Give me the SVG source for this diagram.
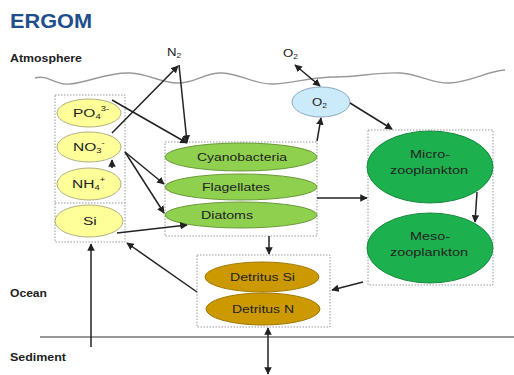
<svg xmlns="http://www.w3.org/2000/svg" width="514" height="375" viewBox="0 0 514 375">
<style>
text{font-family:"Liberation Sans",Arial,sans-serif;fill:#222}
.lbl{font-size:11px;text-anchor:middle}
.side{font-size:10px;font-weight:bold}
.box{fill:none;stroke:#999;stroke-width:1;stroke-dasharray:1.5,1.5}
.yel{fill:#FFFF99;stroke:#B0B080;stroke-width:1}
.phy{fill:#8FD14F;stroke:#6A9A3A;stroke-width:1}
.zoo{fill:#1DB04E;stroke:#178A3D;stroke-width:1}
.det{fill:#CC9900;stroke:#A07800;stroke-width:1}
.oxy{fill:#CCEBFA;stroke:#8AA8C0;stroke-width:1}
.ar{fill:none;stroke:#222;stroke-width:1.5;marker-end:url(#ah)}
.sub{font-size:7px}
.nut{font-size:11.5px}
</style>
<defs>
<marker id="ah" viewBox="0 0 10 10" refX="9" refY="5" markerWidth="5" markerHeight="5" orient="auto-start-reverse">
<path d="M0,0 L10,5 L0,10 z" fill="#222"/>
</marker>
</defs>

<text x="10" y="28" textLength="82" lengthAdjust="spacingAndGlyphs" style="font-size:21px;font-weight:bold;fill:#1F4E8C">ERGOM</text>
<text x="10" y="62" class="side" textLength="72" lengthAdjust="spacingAndGlyphs">Atmosphere</text>
<text x="10" y="297" class="side" textLength="37" lengthAdjust="spacingAndGlyphs">Ocean</text>
<text x="10" y="361" class="side" textLength="56" lengthAdjust="spacingAndGlyphs">Sediment</text>

<path d="M35,78 C48,74 56,86 70,84 C90,82 108,72 130,73 C150,74 160,83 178,83 C196,83 205,72 222,73 C242,74 256,85 274,84 C296,83 310,77 335,77 C360,77 378,72 400,73 C420,74 432,84 450,83 C470,82 488,71 505,70" fill="none" stroke="#999" stroke-width="1.4"/>
<line x1="40" y1="337" x2="514" y2="337" stroke="#333" stroke-width="1"/>

<text transform="translate(167,56) scale(1.2,1)" style="font-size:11px">N<tspan class="sub" dy="2">2</tspan></text>
<text transform="translate(283,57) scale(1.2,1)" style="font-size:11px">O<tspan class="sub" dy="2">2</tspan></text>

<g id="nutrients">
<rect class="box" x="55" y="95" width="70" height="147"/>
<line class="box" x1="55" y1="203" x2="125" y2="203"/>
<g id="po4"><ellipse class="yel" cx="89" cy="113" rx="32" ry="14"/><text class="nut" transform="translate(73,117) scale(1.35,1)">PO<tspan class="sub" dy="2">4</tspan><tspan class="sub" dy="-8">3-</tspan></text></g>
<g id="no3"><ellipse class="yel" cx="89" cy="147" rx="32" ry="15"/><text class="nut" transform="translate(73,151) scale(1.35,1)">NO<tspan class="sub" dy="2">3</tspan><tspan class="sub" dy="-8">-</tspan></text></g>
<g id="nh4"><ellipse class="yel" cx="89" cy="184" rx="32" ry="16"/><text class="nut" transform="translate(72,188) scale(1.35,1)">NH<tspan class="sub" dy="2">4</tspan><tspan class="sub" dy="-8">+</tspan></text></g>
<g id="si"><ellipse class="yel" cx="89" cy="221" rx="34" ry="16"/><text class="nut" transform="translate(83,225) scale(1.35,1)">Si</text></g>
</g>

<g id="phyto">
<rect class="box" x="165" y="142" width="152" height="94"/>
<g id="cyano"><ellipse class="phy" cx="241" cy="157" rx="76" ry="14"/><text x="197" y="161" textLength="90" lengthAdjust="spacingAndGlyphs" style="font-size:11px">Cyanobacteria</text></g>
<g id="flag"><ellipse class="phy" cx="241" cy="187" rx="76" ry="13"/><text x="202" y="191" textLength="68" lengthAdjust="spacingAndGlyphs" style="font-size:11px">Flagellates</text></g>
<g id="diat"><ellipse class="phy" cx="241" cy="215" rx="76" ry="13"/><text x="201" y="219" textLength="52" lengthAdjust="spacingAndGlyphs" style="font-size:11px">Diatoms</text></g>
</g>

<g id="o2"><ellipse class="oxy" cx="321" cy="102" rx="29" ry="15"/><text transform="translate(312,106) scale(1.2,1)" style="font-size:11px">O<tspan class="sub" dy="2">2</tspan></text></g>

<g id="zoo">
<rect class="box" x="368" y="130" width="125" height="155"/>
<g id="micro"><ellipse class="zoo" cx="430" cy="167" rx="63" ry="36"/><text x="410" y="158" textLength="40" lengthAdjust="spacingAndGlyphs" style="font-size:11px">Micro-</text><text x="390" y="174" textLength="78" lengthAdjust="spacingAndGlyphs" style="font-size:11px">zooplankton</text></g>
<g id="meso"><ellipse class="zoo" cx="430" cy="248" rx="63" ry="35"/><text x="410" y="240" textLength="40" lengthAdjust="spacingAndGlyphs" style="font-size:11px">Meso-</text><text x="390" y="256" textLength="78" lengthAdjust="spacingAndGlyphs" style="font-size:11px">zooplankton</text></g>
</g>

<g id="detritus">
<rect class="box" x="197" y="255" width="133" height="72"/>
<g id="detsi"><ellipse class="det" cx="262" cy="277" rx="57" ry="15"/><text x="230" y="281" textLength="65" lengthAdjust="spacingAndGlyphs" style="font-size:11px">Detritus Si</text></g>
<g id="detn"><ellipse class="det" cx="263" cy="309" rx="57" ry="16"/><text x="232" y="313" textLength="62" lengthAdjust="spacingAndGlyphs" style="font-size:11px">Detritus N</text></g>
</g>

<g id="connectors">
<line class="ar" x1="112" y1="133" x2="178" y2="66"/>
<line class="ar" x1="179" y1="65" x2="187" y2="142"/>
<line class="ar" x1="112" y1="100" x2="187" y2="143"/>
<line class="ar" x1="125" y1="152" x2="164" y2="184"/>
<line class="ar" x1="125" y1="152" x2="164" y2="213"/>
<line class="ar" x1="112" y1="168" x2="112" y2="160"/>
<line class="ar" x1="117" y1="233" x2="187" y2="225"/>
<line class="ar" x1="317" y1="141" x2="321" y2="118"/>
<line class="ar" style="marker-start:url(#ah)" x1="295" y1="65" x2="320" y2="86"/>
<line class="ar" x1="350" y1="103" x2="392" y2="129"/>
<line class="ar" x1="317" y1="198" x2="367" y2="198"/>
<line class="ar" x1="477" y1="192" x2="475" y2="222"/>
<line class="ar" x1="363" y1="282" x2="332" y2="290"/>
<line class="ar" x1="269" y1="236" x2="269" y2="254"/>
<line class="ar" x1="197" y1="292" x2="127" y2="243"/>
<line class="ar" x1="91" y1="347" x2="91" y2="244"/>
<line class="ar" style="marker-start:url(#ah)" x1="268" y1="328" x2="268" y2="374"/>
</g>
</svg>
